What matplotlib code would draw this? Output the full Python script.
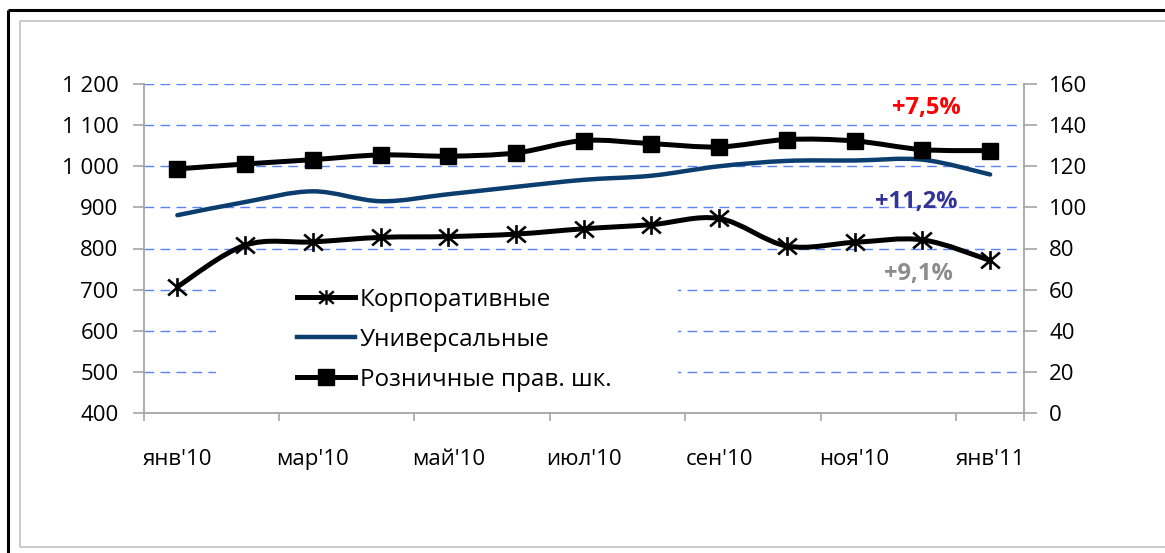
import matplotlib
matplotlib.use("Agg")
import matplotlib.pyplot as plt
from matplotlib.path import Path
from matplotlib.patches import PathPatch, Rectangle
from matplotlib.lines import Line2D
import numpy as np

plt.rcParams['font.family'] = ['Open Sans', 'DejaVu Sans']

# --- data -------------------------------------------------------------
months = ["янв'10", "фев'10", "мар'10", "апр'10", "май'10", "июн'10", "июл'10",
          "авг'10", "сен'10", "окт'10", "ноя'10", "дек'10", "янв'11"]
corporate = [707, 808, 816, 827, 829, 835, 848, 858, 873, 806, 815, 821, 771]
universal = [881, 913, 939, 915, 932, 950, 967, 977, 1000, 1013, 1014, 1016, 980]
retail = [118.7, 121.1, 123.2, 125.5, 124.9, 126.5, 132.5, 131.0, 129.4, 133.0, 132.3, 128.1, 127.6]

left_ticks = [400, 500, 600, 700, 800, 900, 1000, 1100, 1200]
right_ticks = [0, 20, 40, 60, 80, 100, 120, 140, 160]
series_names = ["Корпоративные", "Универсальные", "Розничные прав. шк."]
growth_labels = ["+7,5%", "+11,2%", "+9,1%"]

# --- figure -----------------------------------------------------------
W, H = 1165, 553
fig = plt.figure(figsize=(W / 100, H / 100), dpi=100)

# outer frame lines (black) and inner chart-area border (grey)
def px_line(x0, y0, x1, y1, color, lw):
    fig.add_artist(Line2D([x0 / W, x1 / W], [1 - y0 / H, 1 - y1 / H],
                          color=color, lw=lw, transform=fig.transFigure,
                          solid_capstyle='butt'))

px_line(8, 10, W, 10, 'black', 2.2)
px_line(8, 10, 8, H, 'black', 2.2)
px_line(20, 21, W, 21, '#C8C8C8', 1.4)
px_line(20, 21, 20, 547, '#C8C8C8', 1.4)
px_line(20, 547, W, 547, '#C8C8C8', 1.4)

ax_l, ax_r, ax_t, ax_b = 143.5, 1024, 84, 413
ax = fig.add_axes([ax_l / W, 1 - ax_b / H, (ax_r - ax_l) / W, (ax_b - ax_t) / H])
ax2 = ax.twinx()

x = np.arange(len(months))
ax.set_xlim(-0.5, len(months) - 0.5)
ax.set_ylim(400, 1200)
ax2.set_ylim(0, 160)

grey = '#A6A6A6'
for a in (ax, ax2):
    a.patch.set_visible(False)
    for s in a.spines.values():
        s.set_color(grey)
        s.set_linewidth(1.3)
    a.spines['top'].set_visible(False)
ax.spines['right'].set_visible(False)
ax2.spines['left'].set_visible(False)
ax2.spines['bottom'].set_visible(False)

ax.set_yticks(left_ticks)
ax.set_yticklabels([f"{v:,}".replace(",", " ") for v in left_ticks])
ax2.set_yticks(right_ticks)
ax2.set_yticklabels([str(v) for v in right_ticks])

ax.set_xticks(np.arange(-0.5, len(months), 2).tolist() + [len(months) - 0.5])
ax.set_xticklabels([])
ax.set_xticks(x[::2], minor=True)
ax.set_xticklabels(months[::2], minor=True)
ax.tick_params(axis='x', which='major', length=6, color=grey, width=1.2)
ax.tick_params(axis='x', which='minor', length=0, pad=26, labelsize=16)
ax.tick_params(axis='y', length=8, color=grey, width=1.2, pad=10, labelsize=16)
ax2.tick_params(axis='y', length=9, color=grey, width=1.2, pad=9, labelsize=16)

ax.set_axisbelow(True)
ax.yaxis.grid(True, color='#5A82FF', lw=1.0, linestyle=(0, (7, 4.5)))

# white backing behind the legend
ax.add_patch(Rectangle((0.082, 0.064), 0.525, 0.377, transform=ax.transAxes,
                       facecolor='white', edgecolor='none', zorder=1))


def smooth_path(xs, ys):
    """Bezier path through the points (Excel-style smoothed line)."""
    pts = np.column_stack([xs, ys]).astype(float)
    n = len(pts)
    verts = [pts[0]]
    codes = [Path.MOVETO]
    for i in range(n - 1):
        p0 = pts[i - 1] if i > 0 else pts[i]
        p1 = pts[i]
        p2 = pts[i + 1]
        p3 = pts[i + 2] if i + 2 < n else pts[i + 1]
        c1 = p1 + (p2 - p0) / 6.0
        c2 = p2 - (p3 - p1) / 6.0
        verts += [c1, c2, p2]
        codes += [Path.CURVE4] * 3
    return Path(verts, codes)


# asterisk marker: an X crossed by a vertical stroke
star = Path([(0, -1), (0, 1), (-1, -0.85), (1, 0.85), (-1, 0.85), (1, -0.85)],
            [Path.MOVETO, Path.LINETO, Path.MOVETO, Path.LINETO,
             Path.MOVETO, Path.LINETO])

navy = '#0B3D6E'
ax.add_patch(PathPatch(smooth_path(x, universal), facecolor='none',
                       edgecolor=navy, lw=3.2, zorder=3, capstyle='round'))
ax.add_patch(PathPatch(smooth_path(x, corporate), facecolor='none',
                       edgecolor='black', lw=3.6, zorder=3, capstyle='round'))
ax.plot(x, corporate, linestyle='none', marker=star, markersize=13.5,
        markeredgecolor='black', markerfacecolor='none',
        markeredgewidth=1.9, zorder=4)
ax2.add_patch(PathPatch(smooth_path(x, retail), facecolor='none',
                        edgecolor='black', lw=3.6, zorder=3, capstyle='round'))
ax2.plot(x, retail, linestyle='none', marker='s', markersize=11.5,
         color='black', zorder=4)

handles = [
    Line2D([], [], color='black', lw=3.6, marker=star, markersize=10.5,
           markerfacecolor='none', markeredgewidth=1.7),
    Line2D([], [], color=navy, lw=3.2),
    Line2D([], [], color='black', lw=3.6, marker='s', markersize=11),
]
fig.legend(handles, series_names, loc='upper left',
           bbox_to_anchor=(297 / W, 1 - 288 / H), frameon=False,
           fontsize=17.5, handlelength=2.39, handletextpad=0.2,
           labelspacing=0.65, borderpad=0, borderaxespad=0, numpoints=1)

# growth over the period
ax.text(11.06, 1142, growth_labels[0], color='#FF0000', fontsize=17,
        fontweight='bold', ha='center', va='center', zorder=5)
ax.text(10.91, 913, growth_labels[1], color='#333399', fontsize=17,
        fontweight='bold', ha='center', va='center', zorder=5)
ax.text(10.94, 738, growth_labels[2], color='#8C8C8C', fontsize=17,
        fontweight='bold', ha='center', va='center', zorder=5)

fig.savefig('out.png', dpi=100)
